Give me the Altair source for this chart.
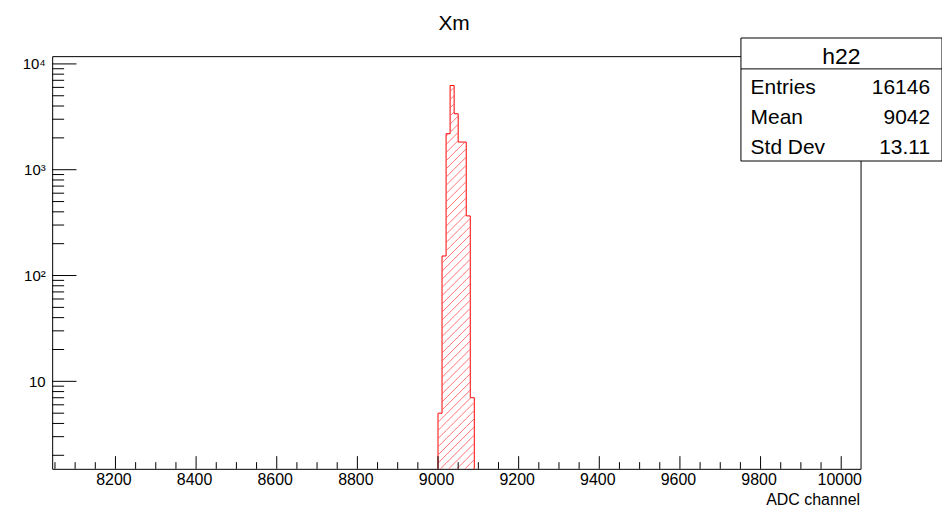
import altair as alt
import numpy as np
import pandas as pd

# ---------------- data ----------------
bin_low = [9000, 9010, 9020, 9030, 9040, 9050, 9060, 9070, 9080]
bin_width = 10
counts = [5, 153, 2190, 6245, 3380, 1825, 1825, 366, 7]

x_major = [8200, 8400, 8600, 8800, 9000, 9200, 9400, 9600, 9800, 10000]
x_minor = [v for v in range(8050, 10001, 50) if v not in x_major]
y_major = [10, 100, 1000, 10000]
y_major_labels = ["10", "10²", "10³", "10⁴"]
y_minor = [m * 10 ** k for k in range(4) for m in range(2, 10)]

stats_title = "h22"
stats_names = ["Entries", "Mean", "Std Dev"]
stats_values = ["16146", "9042", "13.11"]
chart_title = "Xm"
x_title = "ADC channel"

# ---------------- layout / scales ----------------
X_DOMAIN = [8043, 10048]
Y_DOMAIN = [1.49, 11840]
W, H = 811, 414
FONT = "Liberation Sans"
RED = "#ff0000"

xscale = alt.Scale(domain=X_DOMAIN, nice=False, zero=False)
yscale = alt.Scale(type="log", domain=Y_DOMAIN, nice=False)

label_expr = " : ".join(
    f"datum.value == {v} ? '{t}'" for v, t in zip(y_major, y_major_labels)
) + " : ''"

x_axis = alt.Axis(
    values=x_major,
    format="d",
    ticks=False,
    domain=False,
    grid=False,
    labelFontSize=16,
    labelPadding=3,
    labelOffset=-2,
    labelColor="black",
    labelFont=FONT,
    title=x_title,
    titleFont=FONT,
    titleFontSize=16,
    titleFontWeight="normal",
    titleColor="black",
    titleAnchor="end",
    titleAlign="right",
    titleBaseline="alphabetic",
    titleX=W - 1,
    titleY=35.5,
)
y_axis = alt.Axis(
    values=y_major,
    labelExpr=label_expr,
    ticks=False,
    domain=False,
    grid=False,
    labelFontSize=15,
    labelPadding=7,
    labelColor="black",
    labelFont=FONT,
    title=None,
)

# hatch pattern (ROOT fill style 3004) computed from the bins through the scale mapping
LY0, LY1 = np.log10(Y_DOMAIN[0]), np.log10(Y_DOMAIN[1])


def xp(x):
    return (x - X_DOMAIN[0]) / (X_DOMAIN[1] - X_DOMAIN[0]) * W


def yp(y):
    return (LY1 - np.log10(y)) / (LY1 - LY0) * H


def xd(p):
    return X_DOMAIN[0] + p / W * (X_DOMAIN[1] - X_DOMAIN[0])


def yd(p):
    return 10 ** (LY1 - p / H * (LY1 - LY0))


HATCH = 8.2
hatch_rows = []
for lo, c in zip(bin_low, counts):
    xa, xb = xp(lo), xp(lo + bin_width)
    yt, yb = yp(c), H
    for k in range(int(np.floor((xa + yt) / HATCH)) - 1, int(np.ceil((xb + yb) / HATCH)) + 2):
        cc = k * HATCH
        a = max(xa, cc - yb)
        b = min(xb, cc - yt)
        if b - a > 0.05:
            hatch_rows.append({"x": xd(a), "y": yd(cc - a), "x2": xd(b), "y2": yd(cc - b)})
hatch_df = pd.DataFrame(hatch_rows)

# outline as a step line
ox = [bin_low[0]] + bin_low + [bin_low[-1] + bin_width, bin_low[-1] + bin_width]
oy = [Y_DOMAIN[0]] + counts + [counts[-1], Y_DOMAIN[0]]
outline_df = pd.DataFrame({"x": ox, "y": oy, "i": list(range(len(ox)))})

X = lambda f="x:Q": alt.X(f, scale=xscale, axis=x_axis)
Y = lambda f="y:Q": alt.Y(f, scale=yscale, axis=y_axis)

outline = alt.Chart(outline_df).mark_line(
    interpolate="step-after", color=RED, strokeWidth=1
).encode(x=X(), y=Y(), order="i:Q")

hatch = alt.Chart(hatch_df).mark_rule(color="#ff6060", strokeWidth=0.9).encode(
    x=X(), x2="x2:Q", y=Y(), y2="y2:Q"
)

xmaj = alt.Chart(pd.DataFrame({"x": x_major})).mark_rule(color="black", strokeWidth=1).encode(
    x=X(), y=alt.value(H), y2=alt.value(H - 12.7)
)
xmin = alt.Chart(pd.DataFrame({"x": x_minor})).mark_rule(color="black", strokeWidth=1).encode(
    x=X(), y=alt.value(H), y2=alt.value(H - 6.7)
)
ymaj = alt.Chart(pd.DataFrame({"y": y_major})).mark_rule(color="black", strokeWidth=1).encode(
    y=Y(), x=alt.value(0), x2=alt.value(24.4)
)
ymin = alt.Chart(pd.DataFrame({"y": y_minor})).mark_rule(color="black", strokeWidth=1).encode(
    y=Y(), x=alt.value(0), x2=alt.value(12)
)

one = pd.DataFrame({"a": [0]})
BX0, BX1, BY0, BY1 = 691, 892.7, -18.2, 105.2
box = alt.Chart(one).mark_rect(fill="white", stroke="black", strokeWidth=1).encode(
    x=alt.value(BX0), x2=alt.value(BX1), y=alt.value(BY0), y2=alt.value(BY1)
)
box_line = alt.Chart(one).mark_rule(color="black", strokeWidth=1).encode(
    x=alt.value(BX0), x2=alt.value(BX1), y=alt.value(12.8)
)
box_title = alt.Chart(one).mark_text(
    text=stats_title, font=FONT, fontSize=23, align="center", baseline="alphabetic", color="black"
).encode(x=alt.value((BX0 + BX1) / 2), y=alt.value(7.8))

stat_layers = []
for i, (n, v) in enumerate(zip(stats_names, stats_values)):
    yy = 37.8 + 30 * i
    stat_layers.append(
        alt.Chart(one).mark_text(
            text=n, font=FONT, fontSize=21, align="left", baseline="alphabetic", color="black"
        ).encode(x=alt.value(700.7), y=alt.value(yy))
    )
    stat_layers.append(
        alt.Chart(one).mark_text(
            text=v, font=FONT, fontSize=21, align="right", baseline="alphabetic", color="black"
        ).encode(x=alt.value(880.7), y=alt.value(yy))
    )

title = alt.Chart(one).mark_text(
    text=chart_title, font=FONT, fontSize=21, align="center", baseline="alphabetic", color="black"
).encode(x=alt.value(403.2), y=alt.value(-26.2))

chart = (
    alt.layer(outline, hatch, xmaj, xmin, ymaj, ymin, box, box_line, box_title, *stat_layers, title)
    .properties(
        width=W,
        height=H,
        padding={"left": 44.3, "top": 47.5, "right": 81.7, "bottom": 37.5},
        autosize=alt.AutoSizeParams(type="none"),
        background="white",
    )
    .configure_view(stroke="black", strokeWidth=1)
)

chart.save("out.html", embed_options={"renderer": "svg", "actions": False})
